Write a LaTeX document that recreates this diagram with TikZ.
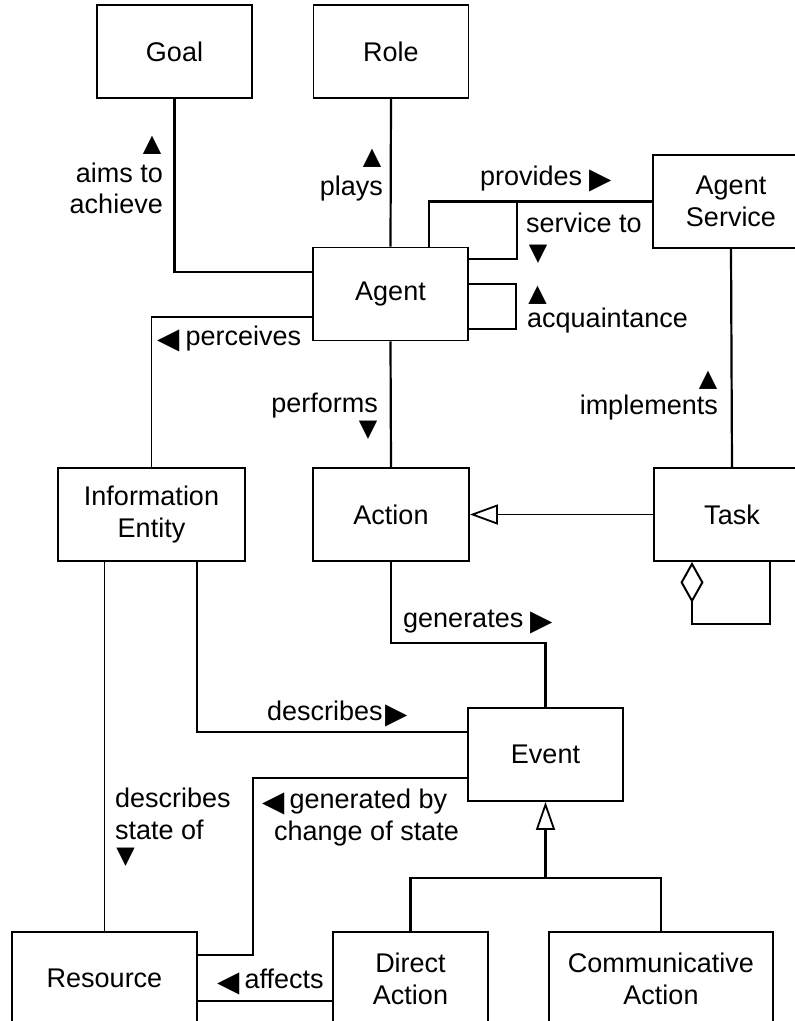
\documentclass[tikz,border=0pt]{standalone}
\usepackage{fontspec}
\setmainfont{Liberation Sans}
\newfontfamily\trifont{DejaVu Sans}
\usetikzlibrary{arrows.meta}
\newcommand{\tri}[1]{\raisebox{-3pt}{\trifont\fontsize{24}{24}\selectfont #1}}
\newcommand{\htri}[1]{\raisebox{-3pt}{\trifont\fontsize{29}{29}\selectfont #1}}

\begin{document}
\begin{tikzpicture}[x=1pt,y=-1pt]
        \tikzstyle{every node}+=[inner sep=0pt, font=\fontsize{27}{32}\selectfont]
        \tikzstyle{cls}=[draw, line width=1.8pt, minimum width=155pt, minimum height=93pt, align=center]
        \tikzstyle{assoc}=[line width=2.2pt]
        \tikzstyle{weak}=[line width=1.2pt]
        \useasboundingbox (0,0) rectangle (795,1021);
        \clip (0,0) rectangle (795,1021);
        \node [cls] (goal) at (174.5,51.5) {Goal};
        \node [cls] (role) at (391,51.5) {Role};
        \node [cls] (agent) at (390.5,294) {Agent};
        \node [cls, minimum width=156pt] (agentsvc) at (731,201.5) {Agent\\Service};
        \node [cls, minimum width=187pt] (infoent) at (151.5,514.5) {Information\\Entity};
        \node [cls, minimum width=156pt] (action) at (391,514.5) {Action};
        \node [cls, minimum width=156pt] (task) at (732,514.5) {Task};
        \node [cls] (event) at (545.5,754.5) {Event};
        \node [cls, minimum width=185pt] (resource) at (104.5,978.5) {Resource};
        \node [cls] (directact) at (410.5,978.5) {Direct\\Action};
        \node [cls, minimum width=224pt] (commact) at (661,978.5) {Communicative\\Action};
        \coordinate (genjoint) at ([yshift=-76pt]event.south);
        \draw [assoc] (goal.south) |- ([yshift=22pt]agent.west);
        \draw [assoc] (role.south) -- (agent.north);
        \draw [assoc] ([xshift=38.5pt]agent.north) |- (agentsvc.west);
        \draw [assoc] ([yshift=35pt]agent.east) -| ([xshift=-135pt]agentsvc.west);
        \draw [assoc] ([yshift=10pt]agent.east) -- ++(47,0) |- ([yshift=-35pt]agent.east);
        \draw [weak] ([yshift=-23pt]agent.west) -| (infoent.north);
        \draw [assoc] (agent.south) -- (action.north);
        \draw [assoc] (agentsvc.south) -- (task.north);
        \draw [weak, -{Triangle[open, length=28pt, width=20pt, line width=1.8pt]}] (task.west) -- (action.east);
        \draw [assoc, {Diamond[open, length=41pt, width=23pt, line width=2pt]}-] ([xshift=-40pt]task.south) -- ++(0,62) -| ([xshift=38pt]task.south);
        \draw [assoc] (action.south) -- ++(0,81) -| (event.north);
        \draw [assoc] ([xshift=45.5pt]infoent.south) |- ([yshift=22.5pt]event.west);
        \draw [weak] (resource.north) -- (resource.north |- infoent.south);
        \draw [weak] ([yshift=-23.5pt]event.west) -| ([xshift=55pt, yshift=23.5pt]resource.east) -- ([yshift=23.5pt]resource.east);
        \draw [assoc] ([yshift=-22.5pt]directact.west) -- ([yshift=-22.5pt]resource.east);
        \draw [assoc] (directact.north) |- (genjoint) -| (commact.north);
        \draw [assoc, -{Triangle[open, length=28pt, width=19pt, line width=1.8pt]}] (genjoint) -- (event.south);
        \node (aimsmark) at (152,145) {\tri{▲}};
        \node [anchor=base east] (aims) at (163,182) {aims to};
        \node [anchor=base east] (achieve) at (163,213) {achieve};
        \node (playsmark) at (372,158) {\tri{▲}};
        \node [anchor=base east] (plays) at (383,195) {plays};
        \node [anchor=base west] (provides) at (480,185) {provides\hspace{7pt}\htri{▶}};
        \node [anchor=base west] (serviceto) at (526,232) {service to};
        \node (servicemark) at (538,254) {\tri{▼}};
        \node (acqmark) at (537.5,295) {\tri{▲}};
        \node [anchor=base west] (acquaint) at (527,327) {acquaintance};
        \node [anchor=base west] (perceives) at (157,345) {\htri{◀}\hspace{6pt}perceives};
        \node [anchor=base east] (performs) at (378,412) {performs};
        \node (performsmark) at (368,430) {\tri{▼}};
        \node (implmark) at (708,380) {\tri{▲}};
        \node [anchor=base east] (implements) at (718,414) {implements};
        \node [anchor=base west] (generates) at (403,627) {generates\hspace{7pt}\htri{▶}};
        \node [anchor=base west] (describes) at (267,720) {describes\hspace{3pt}\htri{▶}};
        \node [anchor=base west] (descstate) at (115,807) {describes};
        \node [anchor=base west] (stateof) at (115,839) {state of};
        \node (statemark) at (125.5,857.5) {\tri{▼}};
        \node [anchor=base west] (genby) at (262,808) {\htri{◀}\hspace{5pt}generated by};
        \node [anchor=base west] (changeof) at (274,840) {change of state};
        \node [anchor=base west] (affects) at (217,988) {\htri{◀}\hspace{5pt}affects};
\end{tikzpicture}
\end{document}
